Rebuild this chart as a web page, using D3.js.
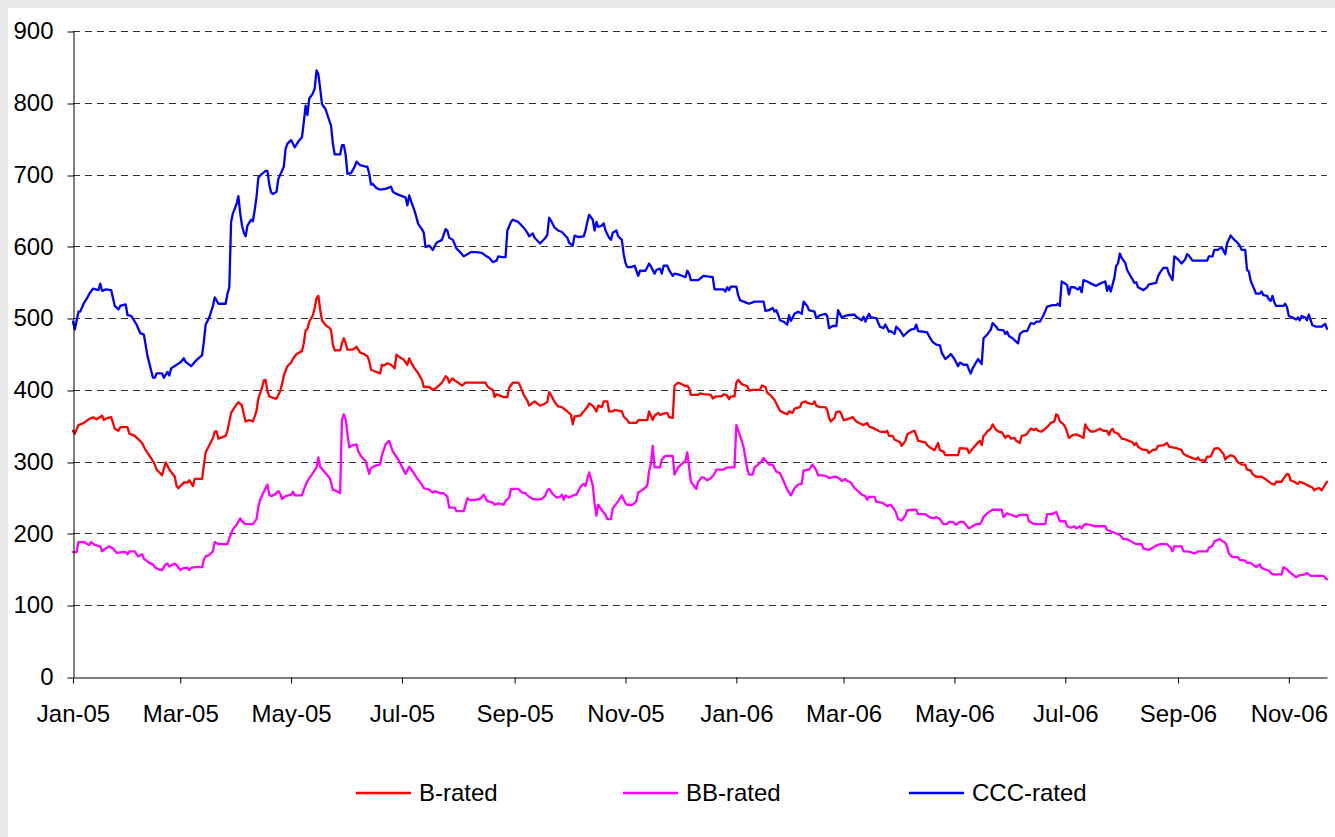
<!DOCTYPE html>
<html>
<head>
<meta charset="utf-8">
<script src="https://cdn.jsdelivr.net/npm/d3@7"></script>
<style>
  html, body { margin: 0; padding: 0; background: #e9e9e9; }
  svg { display: block; }
  text { font-family: "Liberation Sans", Arial, sans-serif; fill: #000; }
</style>
</head>
<body>
<svg id="chart" width="1335" height="837"></svg>
<script>
// ---- data -------------------------------------------------------------
const seriesNames = ["B-rated", "BB-rated", "CCC-rated"];
const seriesColors = ["#ff0000", "#ff00ff", "#0000ff"];
const yTickValues = [0, 100, 200, 300, 400, 500, 600, 700, 800, 900];
const xTickDates = ["2005-01-01", "2005-03-01", "2005-05-01", "2005-07-01", "2005-09-01", "2005-11-01",
                    "2006-01-01", "2006-03-01", "2006-05-01", "2006-07-01", "2006-09-01", "2006-11-01"];
const dateRange = ["2005-01-01", "2006-11-22"];

const bRated = [
["2005-01-01",343],["2005-01-02",339],["2005-01-04",351],["2005-01-07",354],["2005-01-09",358],["2005-01-12",362],
["2005-01-14",359],["2005-01-17",364],["2005-01-18",358],["2005-01-20",361],["2005-01-22",362],["2005-01-24",346],
["2005-01-26",343],["2005-01-27",348],["2005-01-31",348],["2005-02-01",339],["2005-02-04",336],["2005-02-06",331],
["2005-02-08",326],["2005-02-10",316],["2005-02-14",301],["2005-02-15",296],["2005-02-16",289],["2005-02-19",281],
["2005-02-21",299],["2005-02-23",289],["2005-02-26",279],["2005-02-27",266],["2005-02-28",263],["2005-03-03",271],
["2005-03-05",271],["2005-03-06",274],["2005-03-08",266],["2005-03-09",276],["2005-03-13",276],["2005-03-14",294],
["2005-03-15",313],["2005-03-17",323],["2005-03-19",333],["2005-03-20",342],["2005-03-21",342],["2005-03-22",332],
["2005-03-26",336],["2005-03-27",343],["2005-03-29",368],["2005-03-31",376],["2005-04-02",383],["2005-04-04",378],
["2005-04-05",366],["2005-04-06",356],["2005-04-08",358],["2005-04-10",356],["2005-04-11",363],["2005-04-12",371],
["2005-04-13",388],["2005-04-15",403],["2005-04-16",413],["2005-04-17",414],["2005-04-18",398],["2005-04-19",391],
["2005-04-22",388],["2005-04-23",388],["2005-04-25",398],["2005-04-26",408],["2005-04-27",420],["2005-04-29",433],
["2005-05-01",438],["2005-05-02",443],["2005-05-04",450],["2005-05-07",454],["2005-05-08",465],["2005-05-09",483],
["2005-05-10",485],["2005-05-11",495],["2005-05-13",504],["2005-05-14",514],["2005-05-15",528],["2005-05-16",531],
["2005-05-17",512],["2005-05-18",497],["2005-05-20",490],["2005-05-22",487],["2005-05-23",483],["2005-05-24",463],
["2005-05-25",455],["2005-05-28",455],["2005-05-29",465],["2005-05-30",472],["2005-05-31",465],["2005-06-01",456],
["2005-06-04",456],["2005-06-06",460],["2005-06-07",456],["2005-06-08",452],["2005-06-10",450],["2005-06-12",447],
["2005-06-13",440],["2005-06-14",428],["2005-06-16",426],["2005-06-19",423],["2005-06-20",435],["2005-06-21",434],
["2005-06-23",437],["2005-06-25",435],["2005-06-27",430],["2005-06-28",449],["2005-06-30",445],["2005-07-02",442],
["2005-07-04",435],["2005-07-05",444],["2005-07-06",438],["2005-07-08",430],["2005-07-10",423],["2005-07-11",418],
["2005-07-12",414],["2005-07-13",404],["2005-07-16",404],["2005-07-18",400],["2005-07-20",403],["2005-07-23",410],
["2005-07-25",419],["2005-07-26",417],["2005-07-27",410],["2005-07-28",414],["2005-07-29",416],["2005-07-30",413],
["2005-08-01",410],["2005-08-03",406],["2005-08-05",410],["2005-08-16",410],["2005-08-17",405],["2005-08-19",401],
["2005-08-20",400],["2005-08-21",390],["2005-08-22",394],["2005-08-26",390],["2005-08-28",390],["2005-08-29",403],
["2005-08-31",410],["2005-09-03",410],["2005-09-04",406],["2005-09-06",393],["2005-09-08",385],["2005-09-09",378],
["2005-09-12",384],["2005-09-15",378],["2005-09-17",380],["2005-09-19",383],["2005-09-20",397],["2005-09-21",393],
["2005-09-23",383],["2005-09-25",377],["2005-09-27",376],["2005-09-29",372],["2005-09-30",370],["2005-10-02",365],
["2005-10-03",352],["2005-10-04",363],["2005-10-07",364],["2005-10-09",370],["2005-10-11",376],["2005-10-12",381],
["2005-10-14",378],["2005-10-16",370],["2005-10-17",378],["2005-10-19",376],["2005-10-20",384],["2005-10-22",384],
["2005-10-23",370],["2005-10-25",370],["2005-10-26",372],["2005-10-30",370],["2005-10-31",363],["2005-11-02",358],
["2005-11-03",354],["2005-11-07",354],["2005-11-08",358],["2005-11-13",358],["2005-11-14",370],["2005-11-16",358],
["2005-11-17",364],["2005-11-19",368],["2005-11-20",365],["2005-11-22",367],["2005-11-24",368],["2005-11-25",362],
["2005-11-27",361],["2005-11-28",406],["2005-11-30",410],["2005-12-02",408],["2005-12-04",405],["2005-12-05",406],
["2005-12-06",402],["2005-12-07",393],["2005-12-11",393],["2005-12-12",395],["2005-12-14",394],["2005-12-18",393],
["2005-12-19",388],["2005-12-21",391],["2005-12-24",391],["2005-12-25",394],["2005-12-27",392],["2005-12-28",387],
["2005-12-29",391],["2005-12-31",391],["2006-01-01",410],["2006-01-02",414],["2006-01-04",408],["2006-01-07",405],
["2006-01-08",399],["2006-01-10",400],["2006-01-14",400],["2006-01-15",406],["2006-01-17",404],["2006-01-18",396],
["2006-01-20",392],["2006-01-22",386],["2006-01-23",381],["2006-01-25",371],["2006-01-27",368],["2006-01-29",366],
["2006-01-30",370],["2006-02-01",368],["2006-02-02",374],["2006-02-05",376],["2006-02-06",382],["2006-02-08",384],
["2006-02-09",382],["2006-02-12",380],["2006-02-13",384],["2006-02-14",378],["2006-02-16",376],["2006-02-19",376],
["2006-02-20",372],["2006-02-21",361],["2006-02-22",356],["2006-02-24",361],["2006-02-25",369],["2006-02-27",370],
["2006-02-28",365],["2006-03-01",358],["2006-03-03",359],["2006-03-06",362],["2006-03-08",356],["2006-03-11",352],
["2006-03-12",351],["2006-03-14",354],["2006-03-15",349],["2006-03-18",346],["2006-03-21",342],["2006-03-24",341],
["2006-03-25",343],["2006-03-26",336],["2006-03-28",336],["2006-03-29",331],["2006-04-01",327],["2006-04-02",322],
["2006-04-04",329],["2006-04-05",338],["2006-04-07",341],["2006-04-09",343],["2006-04-10",337],["2006-04-11",329],
["2006-04-15",327],["2006-04-16",323],["2006-04-18",319],["2006-04-20",316],["2006-04-22",326],["2006-04-23",316],
["2006-04-25",314],["2006-04-26",309],["2006-05-03",309],["2006-05-04",319],["2006-05-08",318],["2006-05-09",312],
["2006-05-11",318],["2006-05-13",324],["2006-05-15",329],["2006-05-16",323],["2006-05-17",336],["2006-05-18",338],
["2006-05-19",342],["2006-05-21",346],["2006-05-22",352],["2006-05-24",344],["2006-05-26",341],["2006-05-27",341],
["2006-05-29",333],["2006-05-30",336],["2006-05-31",336],["2006-06-01",332],["2006-06-03",333],["2006-06-04",329],
["2006-06-06",326],["2006-06-07",336],["2006-06-09",337],["2006-06-10",339],["2006-06-12",346],["2006-06-14",344],
["2006-06-15",346],["2006-06-16",343],["2006-06-18",342],["2006-06-21",348],["2006-06-23",354],["2006-06-25",356],
["2006-06-26",366],["2006-06-27",364],["2006-06-28",356],["2006-06-30",352],["2006-07-01",348],["2006-07-02",341],
["2006-07-03",333],["2006-07-05",337],["2006-07-07",338],["2006-07-09",336],["2006-07-11",333],["2006-07-12",352],
["2006-07-13",347],["2006-07-15",342],["2006-07-17",342],["2006-07-20",346],["2006-07-22",343],["2006-07-24",343],
["2006-07-25",337],["2006-07-26",343],["2006-07-27",346],["2006-07-28",341],["2006-07-30",339],["2006-07-31",336],
["2006-08-01",332],["2006-08-03",331],["2006-08-05",329],["2006-08-07",327],["2006-08-08",323],["2006-08-09",326],
["2006-08-10",321],["2006-08-12",317],["2006-08-15",316],["2006-08-16",312],["2006-08-18",316],["2006-08-20",317],
["2006-08-21",322],["2006-08-24",323],["2006-08-26",326],["2006-08-27",321],["2006-08-31",319],["2006-09-03",316],
["2006-09-04",311],["2006-09-06",308],["2006-09-08",306],["2006-09-11",303],["2006-09-12",306],["2006-09-13",302],
["2006-09-16",301],["2006-09-17",307],["2006-09-19",307],["2006-09-21",318],["2006-09-23",319],["2006-09-24",317],
["2006-09-26",311],["2006-09-27",303],["2006-09-28",306],["2006-09-30",309],["2006-10-02",307],["2006-10-04",299],
["2006-10-06",296],["2006-10-08",296],["2006-10-09",289],["2006-10-11",288],["2006-10-12",283],["2006-10-14",279],
["2006-10-17",279],["2006-10-19",276],["2006-10-20",274],["2006-10-22",270],["2006-10-24",268],["2006-10-25",272],
["2006-10-28",272],["2006-10-29",276],["2006-10-31",283],["2006-11-01",282],["2006-11-02",274],["2006-11-04",272],
["2006-11-06",269],["2006-11-07",272],["2006-11-10",269],["2006-11-12",266],["2006-11-14",264],["2006-11-15",260],
["2006-11-16",262],["2006-11-18",263],["2006-11-19",260],["2006-11-20",264],["2006-11-22",272]
];

const bbRated = [
["2005-01-01",174],["2005-01-03",174],["2005-01-04",188],["2005-01-07",188],["2005-01-09",185],["2005-01-10",184],
["2005-01-11",188],["2005-01-13",184],["2005-01-16",182],["2005-01-17",175],["2005-01-19",179],["2005-01-21",182],
["2005-01-23",179],["2005-01-25",173],["2005-01-28",174],["2005-01-30",174],["2005-01-31",171],["2005-02-01",175],
["2005-02-04",175],["2005-02-05",171],["2005-02-06",168],["2005-02-08",171],["2005-02-09",165],["2005-02-12",159],
["2005-02-14",157],["2005-02-15",153],["2005-02-17",150],["2005-02-19",149],["2005-02-21",157],["2005-02-22",158],
["2005-02-23",154],["2005-02-26",158],["2005-02-27",156],["2005-03-01",149],["2005-03-03",152],["2005-03-05",152],
["2005-03-06",149],["2005-03-07",152],["2005-03-09",153],["2005-03-13",153],["2005-03-14",163],["2005-03-15",168],
["2005-03-17",170],["2005-03-19",175],["2005-03-20",188],["2005-03-22",185],["2005-03-27",185],["2005-03-28",193],
["2005-03-30",206],["2005-04-01",212],["2005-04-03",221],["2005-04-04",217],["2005-04-06",213],["2005-04-10",213],
["2005-04-12",220],["2005-04-13",237],["2005-04-14",247],["2005-04-16",258],["2005-04-18",268],["2005-04-19",254],
["2005-04-20",252],["2005-04-22",254],["2005-04-24",259],["2005-04-25",255],["2005-04-26",248],["2005-04-28",252],
["2005-05-01",254],["2005-05-02",258],["2005-05-03",253],["2005-05-07",253],["2005-05-08",261],["2005-05-10",273],
["2005-05-13",284],["2005-05-15",292],["2005-05-16",306],["2005-05-17",293],["2005-05-20",284],["2005-05-22",278],
["2005-05-23",271],["2005-05-24",261],["2005-05-26",259],["2005-05-28",256],["2005-05-29",359],["2005-05-30",366],
["2005-05-31",359],["2005-06-01",339],["2005-06-02",320],["2005-06-03",322],["2005-06-06",324],["2005-06-07",314],
["2005-06-09",306],["2005-06-11",301],["2005-06-13",283],["2005-06-14",291],["2005-06-16",294],["2005-06-19",296],
["2005-06-20",309],["2005-06-22",324],["2005-06-24",329],["2005-06-26",314],["2005-06-29",303],["2005-07-01",293],
["2005-07-03",283],["2005-07-05",293],["2005-07-07",286],["2005-07-09",278],["2005-07-12",268],["2005-07-13",263],
["2005-07-16",261],["2005-07-18",257],["2005-07-19",259],["2005-07-22",256],["2005-07-24",256],["2005-07-26",251],
["2005-07-27",236],["2005-07-30",236],["2005-07-31",231],["2005-08-04",231],["2005-08-06",249],["2005-08-08",246],
["2005-08-13",248],["2005-08-15",254],["2005-08-17",245],["2005-08-20",243],["2005-08-21",240],["2005-08-23",242],
["2005-08-26",240],["2005-08-27",245],["2005-08-29",250],["2005-08-30",262],["2005-09-03",262],["2005-09-05",257],
["2005-09-07",256],["2005-09-08",253],["2005-09-11",248],["2005-09-14",247],["2005-09-16",248],["2005-09-18",253],
["2005-09-19",260],["2005-09-20",262],["2005-09-22",255],["2005-09-24",250],["2005-09-26",251],["2005-09-27",254],
["2005-09-28",247],["2005-09-29",253],["2005-10-01",250],["2005-10-04",254],["2005-10-05",254],["2005-10-07",264],
["2005-10-09",269],["2005-10-10",266],["2005-10-12",285],["2005-10-14",267],["2005-10-15",242],["2005-10-16",225],
["2005-10-17",240],["2005-10-19",232],["2005-10-21",226],["2005-10-22",220],["2005-10-24",220],["2005-10-25",235],
["2005-10-28",245],["2005-10-30",253],["2005-11-01",242],["2005-11-02",240],["2005-11-05",240],["2005-11-07",245],
["2005-11-08",257],["2005-11-10",260],["2005-11-12",264],["2005-11-13",267],["2005-11-14",287],["2005-11-15",297],
["2005-11-16",322],["2005-11-17",292],["2005-11-20",292],["2005-11-21",303],["2005-11-23",308],["2005-11-27",308],
["2005-11-28",282],["2005-11-30",292],["2005-12-02",297],["2005-12-04",301],["2005-12-05",313],["2005-12-06",292],
["2005-12-07",272],["2005-12-10",262],["2005-12-11",272],["2005-12-13",278],["2005-12-14",278],["2005-12-16",274],
["2005-12-18",277],["2005-12-20",283],["2005-12-21",289],["2005-12-25",289],["2005-12-27",292],["2005-12-31",292],
["2006-01-01",351],["2006-01-03",337],["2006-01-05",320],["2006-01-07",290],["2006-01-08",282],["2006-01-10",282],
["2006-01-11",292],["2006-01-13",296],["2006-01-15",301],["2006-01-16",305],["2006-01-18",299],["2006-01-19",296],
["2006-01-21",296],["2006-01-23",286],["2006-01-25",284],["2006-01-27",273],["2006-01-29",261],["2006-01-31",253],
["2006-02-02",263],["2006-02-04",268],["2006-02-06",269],["2006-02-07",288],["2006-02-08",288],["2006-02-10",289],
["2006-02-12",296],["2006-02-14",288],["2006-02-15",281],["2006-02-18",281],["2006-02-20",279],["2006-02-21",277],
["2006-02-24",279],["2006-02-25",279],["2006-02-27",276],["2006-02-28",273],["2006-03-02",276],["2006-03-03",273],
["2006-03-05",271],["2006-03-07",263],["2006-03-09",259],["2006-03-11",254],["2006-03-13",252],["2006-03-14",247],
["2006-03-15",251],["2006-03-18",251],["2006-03-19",244],["2006-03-22",243],["2006-03-24",240],["2006-03-25",238],
["2006-03-27",240],["2006-03-29",233],["2006-03-30",228],["2006-03-31",220],["2006-04-02",218],["2006-04-04",225],
["2006-04-05",232],["2006-04-08",233],["2006-04-10",233],["2006-04-11",227],["2006-04-15",227],["2006-04-16",225],
["2006-04-18",222],["2006-04-20",221],["2006-04-21",223],["2006-04-23",220],["2006-04-25",213],["2006-04-27",213],
["2006-04-28",216],["2006-04-30",216],["2006-05-02",212],["2006-05-04",216],["2006-05-06",216],["2006-05-07",213],
["2006-05-09",207],["2006-05-11",210],["2006-05-13",213],["2006-05-15",213],["2006-05-16",217],["2006-05-17",223],
["2006-05-19",228],["2006-05-22",233],["2006-05-27",233],["2006-05-28",223],["2006-05-30",228],["2006-06-01",226],
["2006-06-04",223],["2006-06-06",226],["2006-06-10",226],["2006-06-11",217],["2006-06-14",213],["2006-06-20",213],
["2006-06-21",227],["2006-06-24",227],["2006-06-26",230],["2006-06-28",217],["2006-07-01",217],["2006-07-02",210],
["2006-07-04",208],["2006-07-06",210],["2006-07-07",207],["2006-07-09",210],["2006-07-10",207],["2006-07-11",211],
["2006-07-12",213],["2006-07-15",212],["2006-07-17",210],["2006-07-23",210],["2006-07-24",205],["2006-07-26",203],
["2006-07-28",201],["2006-07-31",198],["2006-08-02",192],["2006-08-04",192],["2006-08-06",189],["2006-08-09",185],
["2006-08-12",185],["2006-08-13",179],["2006-08-16",177],["2006-08-18",180],["2006-08-20",183],["2006-08-22",185],
["2006-08-26",185],["2006-08-28",180],["2006-08-29",175],["2006-08-30",182],["2006-09-03",182],["2006-09-04",175],
["2006-09-06",175],["2006-09-08",174],["2006-09-10",172],["2006-09-12",175],["2006-09-17",175],["2006-09-18",180],
["2006-09-20",183],["2006-09-21",189],["2006-09-24",192],["2006-09-25",190],["2006-09-27",187],["2006-09-28",182],
["2006-09-29",172],["2006-10-01",167],["2006-10-04",167],["2006-10-05",163],["2006-10-08",162],["2006-10-09",159],
["2006-10-11",159],["2006-10-12",157],["2006-10-14",153],["2006-10-16",157],["2006-10-17",152],["2006-10-19",150],
["2006-10-21",148],["2006-10-23",143],["2006-10-28",143],["2006-10-29",153],["2006-10-31",150],["2006-11-01",147],
["2006-11-03",143],["2006-11-05",139],["2006-11-07",142],["2006-11-10",143],["2006-11-11",145],["2006-11-13",141],
["2006-11-20",141],["2006-11-22",136]
];

const cccRated = [
["2005-01-01",495],["2005-01-02",484],["2005-01-04",509],["2005-01-05",509],["2005-01-07",521],["2005-01-09",529],
["2005-01-10",534],["2005-01-12",541],["2005-01-15",539],["2005-01-16",548],["2005-01-17",538],["2005-01-19",540],
["2005-01-22",539],["2005-01-24",517],["2005-01-26",512],["2005-01-27",517],["2005-01-30",519],["2005-01-31",504],
["2005-02-02",503],["2005-02-05",491],["2005-02-07",479],["2005-02-09",477],["2005-02-11",447],["2005-02-13",427],
["2005-02-14",417],["2005-02-15",417],["2005-02-16",423],["2005-02-19",423],["2005-02-20",417],["2005-02-22",425],
["2005-02-23",420],["2005-02-24",430],["2005-02-27",435],["2005-03-01",438],["2005-03-03",444],["2005-03-04",439],
["2005-03-07",433],["2005-03-09",439],["2005-03-11",444],["2005-03-13",448],["2005-03-14",467],["2005-03-15",491],
["2005-03-16",496],["2005-03-17",501],["2005-03-19",517],["2005-03-20",529],["2005-03-22",520],["2005-03-26",520],
["2005-03-27",534],["2005-03-28",543],["2005-03-29",634],["2005-03-30",646],["2005-04-01",659],["2005-04-02",670],
["2005-04-03",646],["2005-04-04",629],["2005-04-05",619],["2005-04-06",614],["2005-04-07",629],["2005-04-09",637],
["2005-04-10",635],["2005-04-11",651],["2005-04-12",669],["2005-04-13",696],["2005-04-15",701],["2005-04-17",705],
["2005-04-18",705],["2005-04-19",686],["2005-04-20",675],["2005-04-21",673],["2005-04-23",676],["2005-04-24",694],
["2005-04-27",711],["2005-04-28",736],["2005-04-29",743],["2005-05-01",748],["2005-05-03",738],["2005-05-05",746],
["2005-05-07",752],["2005-05-08",773],["2005-05-09",796],["2005-05-10",783],["2005-05-11",806],["2005-05-13",813],
["2005-05-14",820],["2005-05-15",845],["2005-05-16",840],["2005-05-17",820],["2005-05-18",798],["2005-05-20",791],
["2005-05-21",783],["2005-05-23",768],["2005-05-24",743],["2005-05-25",728],["2005-05-28",728],["2005-05-29",741],
["2005-05-30",741],["2005-05-31",728],["2005-06-01",701],["2005-06-03",702],["2005-06-05",711],["2005-06-06",718],
["2005-06-08",713],["2005-06-11",711],["2005-06-12",711],["2005-06-13",701],["2005-06-14",686],["2005-06-15",687],
["2005-06-17",681],["2005-06-19",679],["2005-06-22",680],["2005-06-25",683],["2005-06-26",676],["2005-06-28",673],
["2005-06-30",671],["2005-07-03",668],["2005-07-04",657],["2005-07-05",671],["2005-07-06",663],["2005-07-08",649],
["2005-07-10",631],["2005-07-12",624],["2005-07-13",619],["2005-07-14",599],["2005-07-15",600],["2005-07-16",601],
["2005-07-18",595],["2005-07-19",600],["2005-07-20",605],["2005-07-23",609],["2005-07-25",624],["2005-07-26",622],
["2005-07-27",612],["2005-07-29",609],["2005-07-31",597],["2005-08-02",592],["2005-08-04",586],["2005-08-06",589],
["2005-08-08",592],["2005-08-11",592],["2005-08-14",591],["2005-08-16",587],["2005-08-18",584],["2005-08-20",578],
["2005-08-22",580],["2005-08-23",586],["2005-08-25",585],["2005-08-27",585],["2005-08-28",622],["2005-08-30",634],
["2005-08-31",637],["2005-09-03",634],["2005-09-06",626],["2005-09-08",619],["2005-09-09",614],["2005-09-11",618],
["2005-09-12",612],["2005-09-15",604],["2005-09-18",612],["2005-09-19",616],["2005-09-20",640],["2005-09-21",636],
["2005-09-23",626],["2005-09-25",622],["2005-09-27",620],["2005-09-30",612],["2005-10-01",605],["2005-10-03",601],
["2005-10-04",615],["2005-10-06",613],["2005-10-09",614],["2005-10-10",622],["2005-10-11",634],["2005-10-12",644],
["2005-10-14",637],["2005-10-15",622],["2005-10-16",634],["2005-10-17",627],["2005-10-19",629],["2005-10-20",632],
["2005-10-21",622],["2005-10-23",612],["2005-10-24",609],["2005-10-25",619],["2005-10-27",622],["2005-10-28",614],
["2005-10-30",609],["2005-10-31",589],["2005-11-01",577],["2005-11-02",571],["2005-11-04",571],["2005-11-06",573],
["2005-11-08",559],["2005-11-09",566],["2005-11-12",566],["2005-11-14",576],["2005-11-15",572],["2005-11-17",562],
["2005-11-18",567],["2005-11-20",569],["2005-11-21",562],["2005-11-22",573],["2005-11-24",573],["2005-11-25",567],
["2005-11-27",559],["2005-11-28",562],["2005-11-30",561],["2005-12-02",559],["2005-12-04",557],["2005-12-05",566],
["2005-12-06",562],["2005-12-07",553],["2005-12-11",553],["2005-12-14",559],["2005-12-16",558],["2005-12-19",557],
["2005-12-20",540],["2005-12-25",540],["2005-12-26",537],["2005-12-27",543],["2005-12-28",539],["2005-12-29",544],
["2006-01-01",544],["2006-01-02",532],["2006-01-03",525],["2006-01-06",522],["2006-01-08",520],["2006-01-10",522],
["2006-01-11",523],["2006-01-16",523],["2006-01-17",510],["2006-01-19",511],["2006-01-21",514],["2006-01-22",509],
["2006-01-23",511],["2006-01-24",505],["2006-01-25",497],["2006-01-27",495],["2006-01-29",491],["2006-01-30",504],
["2006-01-31",496],["2006-02-02",506],["2006-02-04",509],["2006-02-06",506],["2006-02-07",523],["2006-02-09",517],
["2006-02-10",511],["2006-02-13",509],["2006-02-14",500],["2006-02-16",504],["2006-02-19",506],["2006-02-20",503],
["2006-02-21",486],["2006-02-23",489],["2006-02-25",489],["2006-02-26",511],["2006-02-28",501],["2006-03-03",504],
["2006-03-07",505],["2006-03-08",502],["2006-03-11",497],["2006-03-12",502],["2006-03-13",495],["2006-03-14",501],
["2006-03-15",506],["2006-03-16",501],["2006-03-19",500],["2006-03-21",488],["2006-03-23",486],["2006-03-24",491],
["2006-03-26",481],["2006-03-27",482],["2006-03-29",478],["2006-03-30",488],["2006-04-01",483],["2006-04-03",475],
["2006-04-05",480],["2006-04-07",484],["2006-04-09",485],["2006-04-10",491],["2006-04-11",482],["2006-04-14",481],
["2006-04-16",480],["2006-04-17",475],["2006-04-19",467],["2006-04-21",463],["2006-04-23",462],["2006-04-24",452],
["2006-04-26",443],["2006-04-27",445],["2006-04-29",450],["2006-05-01",443],["2006-05-03",433],["2006-05-04",438],
["2006-05-06",435],["2006-05-08",435],["2006-05-09",428],["2006-05-10",423],["2006-05-11",430],["2006-05-14",443],
["2006-05-16",436],["2006-05-17",472],["2006-05-19",477],["2006-05-21",484],["2006-05-22",493],["2006-05-24",488],
["2006-05-25",484],["2006-05-28",483],["2006-05-29",478],["2006-05-30",481],["2006-05-31",475],["2006-06-02",472],
["2006-06-04",467],["2006-06-05",465],["2006-06-06",478],["2006-06-08",482],["2006-06-10",482],["2006-06-12",493],
["2006-06-14",492],["2006-06-15",495],["2006-06-17",495],["2006-06-19",504],["2006-06-21",516],["2006-06-24",518],
["2006-06-26",518],["2006-06-27",520],["2006-06-28",517],["2006-06-29",551],["2006-07-01",548],["2006-07-02",546],
["2006-07-03",533],["2006-07-04",543],["2006-07-06",543],["2006-07-08",540],["2006-07-09",543],["2006-07-10",536],
["2006-07-11",553],["2006-07-13",551],["2006-07-16",547],["2006-07-18",545],["2006-07-20",548],["2006-07-23",551],
["2006-07-24",538],["2006-07-25",545],["2006-07-26",537],["2006-07-28",556],["2006-07-29",573],["2006-07-30",576],
["2006-07-31",590],["2006-08-01",584],["2006-08-03",577],["2006-08-04",567],["2006-08-06",558],["2006-08-07",554],
["2006-08-08",549],["2006-08-09",550],["2006-08-10",543],["2006-08-13",539],["2006-08-15",543],["2006-08-16",547],
["2006-08-18",548],["2006-08-20",549],["2006-08-21",558],["2006-08-22",563],["2006-08-24",570],["2006-08-26",570],
["2006-08-27",562],["2006-08-29",553],["2006-08-30",586],["2006-09-01",582],["2006-09-03",576],["2006-09-05",582],
["2006-09-06",589],["2006-09-07",587],["2006-09-09",580],["2006-09-17",580],["2006-09-18",586],["2006-09-20",586],
["2006-09-21",595],["2006-09-23",595],["2006-09-25",599],["2006-09-26",594],["2006-09-27",589],["2006-09-28",604],
["2006-09-30",615],["2006-10-02",609],["2006-10-03",607],["2006-10-05",601],["2006-10-06",595],["2006-10-08",595],
["2006-10-09",567],["2006-10-10",565],["2006-10-11",552],["2006-10-13",540],["2006-10-14",534],["2006-10-16",534],
["2006-10-17",537],["2006-10-18",532],["2006-10-20",531],["2006-10-21",526],["2006-10-22",524],["2006-10-23",531],
["2006-10-24",522],["2006-10-25",517],["2006-10-29",517],["2006-10-30",520],["2006-10-31",515],["2006-11-01",503],
["2006-11-03",501],["2006-11-05",498],["2006-11-06",501],["2006-11-07",497],["2006-11-08",503],["2006-11-10",501],
["2006-11-11",497],["2006-11-12",505],["2006-11-13",497],["2006-11-14",490],["2006-11-16",488],["2006-11-19",488],
["2006-11-21",492],["2006-11-22",485]
];

// ---- layout -----------------------------------------------------------
const W = 1335, H = 837;
const plot = { left: 73, right: 1327, top: 31, bottom: 677 };
const fontSize = 24;

const parse = d3.timeParse("%Y-%m-%d");
const svg = d3.select("#chart");

// white chart area on the grey page
svg.append("rect").attr("x", 8).attr("y", 8).attr("width", W - 8).attr("height", H - 8).attr("fill", "#fff");

const x = d3.scaleTime().domain(dateRange.map(parse)).range([plot.left, plot.right]);
const y = d3.scaleLinear().domain([0, 900]).range([plot.bottom, plot.top]);

// dashed horizontal gridlines
svg.append("g").selectAll("line")
  .data(yTickValues.filter(v => v > 0))
  .join("line")
  .attr("x1", plot.left).attr("x2", plot.right)
  .attr("y1", d => Math.round(y(d)) + 0.5).attr("y2", d => Math.round(y(d)) + 0.5)
  .attr("stroke", "#333").attr("stroke-width", 1).attr("stroke-dasharray", "7,5");

// series lines
const seriesData = [bRated, bbRated, cccRated];
const line = d3.line().x(d => x(parse(d[0]))).y(d => y(d[1]));
svg.append("g").selectAll("path")
  .data(seriesData)
  .join("path")
  .attr("d", line)
  .attr("fill", "none")
  .attr("stroke", (d, i) => seriesColors[i])
  .attr("stroke-width", 2.3)
  .attr("stroke-linejoin", "round")
  .attr("stroke-linecap", "round");

// y axis
const yAxis = svg.append("g")
  .attr("transform", `translate(${plot.left + 0.5},0)`)
  .call(d3.axisLeft(y).tickValues(yTickValues).tickSize(6).tickSizeOuter(0).tickPadding(14));
// x axis
const xAxis = svg.append("g")
  .attr("transform", `translate(0,${plot.bottom + 0.5})`)
  .call(d3.axisBottom(x).tickValues(xTickDates.map(parse))
          .tickFormat(d3.timeFormat("%b-%y")).tickSize(6).tickSizeOuter(0).tickPadding(21));

[yAxis, xAxis].forEach(g => {
  g.selectAll("path.domain").attr("stroke", "#000").attr("stroke-width", 1);
  g.selectAll(".tick line").attr("stroke", "#000").attr("stroke-width", 1);
  g.selectAll("text")
    .attr("font-family", '"Liberation Sans", Arial, sans-serif')
    .attr("font-size", fontSize).attr("fill", "#000");
});
yAxis.selectAll(".tick line").attr("transform", d => `translate(0,${Math.round(y(d)) + 0.5 - y(d)})`);

// legend
const legendY = 793;
const legendStarts = [356, 623, 909];
const legend = svg.append("g");
seriesNames.forEach((name, i) => {
  const gx = legendStarts[i];
  legend.append("line")
    .attr("x1", gx).attr("x2", gx + 55)
    .attr("y1", legendY).attr("y2", legendY)
    .attr("stroke", seriesColors[i]).attr("stroke-width", 2.5);
  legend.append("text")
    .attr("x", gx + 63).attr("y", legendY)
    .attr("dy", "0.35em")
    .attr("font-size", fontSize)
    .text(name);
});
</script>
</body>
</html>
